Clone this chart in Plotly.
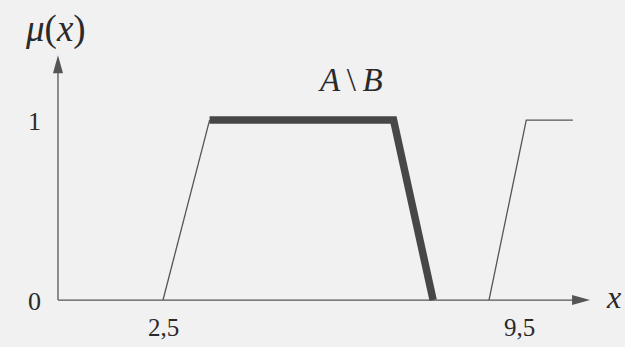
import plotly.graph_objects as go

W, H = 625, 347

# Membership functions (x in units, y = membership degree)
left_x = [2.5, 3.5]
left_y = [0, 1]
diff_x = [3.5, 7.45, 8.3]      # A \ B
diff_y = [1, 1, 0]
right_x = [9.5, 10.3, 11.3]
right_y = [0, 1, 1]

x_tick_vals = [2.5, 9.5]
x_tick_text = ["2,5", "9,5"]
y_tick_vals = [0, 1]
y_tick_text = ["0", "1"]

X_RANGE = [-1.0, 12.42]
Y_RANGE = [-0.261, 1.667]
AXIS_X0 = 0.245      # where the vertical axis stands
X_END = 11.67        # tip of the horizontal arrow
Y_END = 1.36         # tip of the vertical arrow

BG = "#f1f1f1"
INK = "#555555"
THICK = "#474747"
TXT = "#2a2a2a"
SERIF = "Liberation Serif, Times New Roman, serif"

ux = W / (X_RANGE[1] - X_RANGE[0])   # pixels per x unit
uy = H / (Y_RANGE[1] - Y_RANGE[0])   # pixels per y unit

fig = go.Figure()

# axes
fig.add_trace(go.Scatter(x=[AXIS_X0, AXIS_X0], y=[0, Y_END - 10 / uy], mode="lines",
                         line=dict(color=INK, width=1.3), hoverinfo="skip"))
fig.add_trace(go.Scatter(x=[AXIS_X0, X_END - 10 / ux], y=[0, 0], mode="lines",
                         line=dict(color=INK, width=1.3), hoverinfo="skip"))

# arrowheads
ah_len, ah_half = 18, 5
fig.add_shape(type="path", xref="x", yref="y",
              path=(f"M {AXIS_X0} {Y_END} L {AXIS_X0 - ah_half / ux} {Y_END - ah_len / uy} "
                    f"L {AXIS_X0 + ah_half / ux} {Y_END - ah_len / uy} Z"),
              fillcolor=INK, line=dict(width=0))
fig.add_shape(type="path", xref="x", yref="y",
              path=(f"M {X_END} 0 L {X_END - ah_len / ux} {ah_half / uy} "
                    f"L {X_END - ah_len / ux} {-ah_half / uy} Z"),
              fillcolor=INK, line=dict(width=0))

# thin membership lines
fig.add_trace(go.Scatter(x=left_x, y=left_y, mode="lines",
                         line=dict(color=INK, width=1.3), hoverinfo="skip"))
fig.add_trace(go.Scatter(x=right_x, y=right_y, mode="lines",
                         line=dict(color=INK, width=1.3), hoverinfo="skip"))
# thick A \ B
fig.add_trace(go.Scatter(x=diff_x, y=diff_y, mode="lines",
                         line=dict(color=THICK, width=7.5), hoverinfo="skip"))

# tick labels
for v, t in zip(x_tick_vals, x_tick_text):
    shift = 30 if v > 5 else 0
    fig.add_annotation(x=v, y=0, xref="x", yref="y", text=t, showarrow=False,
                       xshift=shift, yshift=-27, font=dict(family=SERIF, size=25, color=TXT))
for v, t in zip(y_tick_vals, y_tick_text):
    fig.add_annotation(x=AXIS_X0, y=v, xref="x", yref="y", text=t, showarrow=False,
                       xshift=-23, yshift=-1, font=dict(family=SERIF, size=26, color=TXT))

# axis titles and set label
fig.add_annotation(x=AXIS_X0, y=Y_END, xref="x", yref="y", text="<i>μ</i>(<i>x</i>)",
                   showarrow=False, xshift=-2, yshift=26,
                   font=dict(family=SERIF, size=37, color=TXT))
fig.add_annotation(x=X_END, y=0, xref="x", yref="y", text="<i>x</i>", showarrow=False,
                   xshift=23, yshift=3, font=dict(family=SERIF, size=32, color=TXT))
fig.add_annotation(x=(diff_x[0] + diff_x[1]) / 2 + 1.05, y=1, xref="x", yref="y",
                   text="<i>A</i>\u2009\\\u2009<i>B</i>", showarrow=False, yshift=40,
                   font=dict(family=SERIF, size=33, color=TXT))

fig.update_layout(
    width=W, height=H, margin=dict(l=0, r=0, t=0, b=0),
    paper_bgcolor=BG, plot_bgcolor=BG, showlegend=False,
    xaxis=dict(range=X_RANGE, visible=False, fixedrange=True),
    yaxis=dict(range=Y_RANGE, visible=False, fixedrange=True),
)

fig.write_html("out.html")
